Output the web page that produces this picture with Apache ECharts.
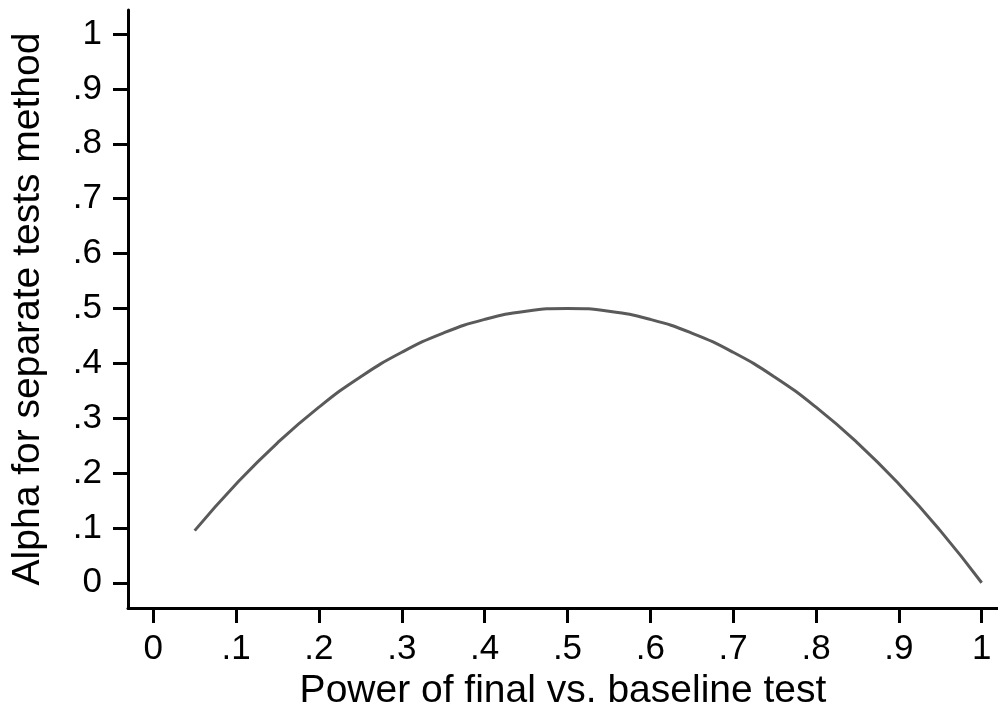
<!DOCTYPE html>
<html><head><meta charset="utf-8">
<script src="https://cdn.jsdelivr.net/npm/echarts@6/dist/echarts.min.js"></script>
<style>html,body{margin:0;padding:0;background:#fff}#c{width:998px;height:706px}</style>
</head><body><div id="c"></div>
<script>
const power = [0.05,0.10,0.15,0.20,0.25,0.30,0.35,0.40,0.45,0.50,0.55,0.60,0.65,0.70,0.75,0.80,0.85,0.90,0.95,1.00];
const alpha = [0.095,0.18,0.255,0.32,0.375,0.42,0.455,0.48,0.495,0.50,0.495,0.48,0.455,0.42,0.375,0.32,0.255,0.18,0.095,0.0];
const ticks = [0,0.1,0.2,0.3,0.4,0.5,0.6,0.7,0.8,0.9,1];
const fmt = v => { const r = Math.round(v*10)/10; if (r===0) return '0'; if (r===1) return '1'; return '.' + Math.round(r*10); };
const font = 'Liberation Sans, Arial, Helvetica, sans-serif';
const axisCommon = {
  axisLine:{show:true,onZero:false,lineStyle:{color:'#000',width:3}},
  axisTick:{show:true,inside:false,length:15,lineStyle:{color:'#000',width:3},customValues:ticks},
  axisLabel:{customValues:ticks,formatter:fmt,color:'#000',fontSize:35,fontFamily:font},
  splitLine:{show:false},
  nameLocation:'middle',
  nameTextStyle:{color:'#000',fontSize:39,fontFamily:font}
};
const chart = echarts.init(document.getElementById('c'),null,{renderer:'canvas'});
chart.setOption({
  animation:false,
  grid:{left:128,right:0,top:10,bottom:98,containLabel:false,outerBoundsMode:'none'},
  xAxis:Object.assign({},axisCommon,{type:'value',min:-0.0305,max:1.0197,name:'Power of final vs. baseline test',nameGap:64,
    axisLabel:Object.assign({},axisCommon.axisLabel,{margin:24})}),
  yAxis:Object.assign({},axisCommon,{type:'value',min:-0.046,max:1.0438,name:'Alpha for separate tests method',nameGap:80,
    axisLabel:Object.assign({},axisCommon.axisLabel,{margin:26})}),
  series:[{type:'line',data:power.map((p,i)=>[p,alpha[i]]),smooth:true,showSymbol:false,symbol:'none',
    lineStyle:{color:'#5a5a5a',width:3}}]
});
</script></body></html>
